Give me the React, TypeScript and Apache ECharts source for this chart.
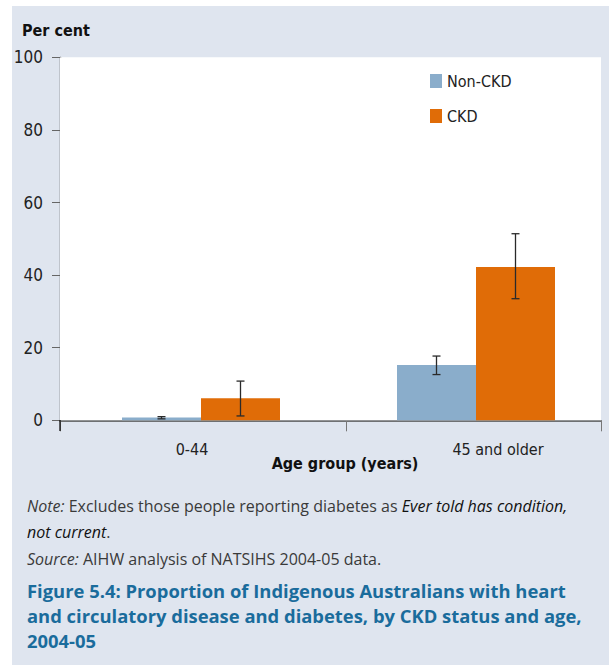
import React, { useEffect, useRef } from "react";
import * as echarts from "echarts";

// ---- Data ----
const categories = ["0-44", "45 and older"];
const seriesNames = ["Non-CKD", "CKD"];
const nonCkdValues = [0.8, 15.2];
const ckdValues = [6.1, 42.2];
const nonCkdLow = [0.4, 12.6];
const nonCkdHigh = [1.0, 17.7];
const ckdLow = [1.2, 33.5];
const ckdHigh = [10.8, 51.4];
const yTicks = [0, 20, 40, 60, 80, 100];

// ---- Layout constants (pixel-like units on the x value axis) ----
const X_MAX = 541;
const groupCentres = [141, 416];
const labelCentres = [132, 438];
const boundaryTicks = [0, 286, 541];
const BAR_W = 79;

const narrow = "'Liberation Sans Narrow', 'DejaVu Sans Condensed', 'Roboto', sans-serif";
const body = "'Open Sans', 'Noto Sans', sans-serif";

export default function App() {
  const ref = useRef<HTMLDivElement>(null);
  useEffect(() => {
    if (!ref.current) return;
    const chart = echarts.init(ref.current, undefined, { renderer: "svg" });

    const errData = (lo: number[], hi: number[]) =>
      categories.map((_, i) => [groupCentres[i], lo[i], hi[i]]);

    const errSeries = (name: string, lo: number[], hi: number[], offset: number) => ({
      type: "custom",
      name: name + " error",
      data: errData(lo, hi),
      z: 10,
      silent: true,
      renderItem: (params: any, api: any) => {
        const x = api.value(0);
        const top = api.coord([x, api.value(2)]);
        const bot = api.coord([x, api.value(1)]);
        const cx = top[0] + offset;
        const style = { stroke: "#2a2a2a", lineWidth: 1.3 };
        return {
          type: "group",
          children: [
            { type: "line", shape: { x1: cx, y1: top[1], x2: cx, y2: bot[1] }, style },
            { type: "line", shape: { x1: cx - 4, y1: top[1], x2: cx + 4, y2: top[1] }, style },
            { type: "line", shape: { x1: cx - 4, y1: bot[1], x2: cx + 4, y2: bot[1] }, style },
          ],
        };
      },
    });

    chart.setOption({
      animation: false,
      backgroundColor: "#ffffff",
      grid: {
        left: 60,
        top: 57.3,
        right: 8,
        bottom: 245.7,
        show: true,
        backgroundColor: "#ffffff",
        borderWidth: 0,
        z: 1,
      },
      legend: {
        data: seriesNames,
        orient: "vertical",
        left: 425,
        top: 68,
        itemWidth: 12,
        itemHeight: 14,
        itemGap: 19,
        icon: "rect",
        textStyle: { fontFamily: narrow, fontSize: 16, color: "#222" },
      },
      xAxis: {
        type: "value",
        min: 0,
        max: X_MAX,
        splitLine: { show: false },
        axisLine: { show: true, onZero: false, lineStyle: { color: "#4a4a4a", width: 1.5 } },
        axisTick: {
          show: true,
          customValues: boundaryTicks,
          length: 11,
          lineStyle: { color: "#777", width: 1 },
        },
        axisLabel: {
          customValues: labelCentres,
          formatter: (v: number) => {
            const i = labelCentres.indexOf(v);
            return i >= 0 ? categories[i] : "";
          },
          margin: 21,
          fontFamily: narrow,
          fontSize: 16,
          color: "#222",
        },
      },
      yAxis: {
        type: "value",
        min: 0,
        max: 100,
        interval: 20,
        splitLine: { show: false },
        axisLine: { show: true, lineStyle: { color: "#111", width: 1.3 } },
        axisTick: { show: true, length: 8, lineStyle: { color: "#666" } },
        axisLabel: {
          margin: 17,
          fontFamily: narrow,
          fontSize: 17,
          color: "#222",
          formatter: (v: number) => (yTicks.includes(v) ? String(v) : ""),
        },
      },
      series: [
        {
          type: "bar",
          name: seriesNames[0],
          data: categories.map((_, i) => [groupCentres[i], nonCkdValues[i]]),
          barWidth: BAR_W,
          barGap: "0%",
          itemStyle: { color: "#8aadcb" },
          z: 3,
        },
        {
          type: "bar",
          name: seriesNames[1],
          data: categories.map((_, i) => [groupCentres[i], ckdValues[i]]),
          barWidth: BAR_W,
          barGap: "0%",
          itemStyle: { color: "#e06c07" },
          z: 3,
        },
        errSeries(seriesNames[0], nonCkdLow, nonCkdHigh, -BAR_W / 2),
        errSeries(seriesNames[1], ckdLow, ckdHigh, BAR_W / 2),
      ],
      graphic: [
        {
          type: "rect",
          z: -10,
          shape: { x: 12, y: 6, width: 600, height: 659 },
          style: { fill: "#dfe5ef" },
          silent: true,
        },
        {
          type: "line",
          z: 5,
          shape: { x1: 60, y1: 420, x2: 60, y2: 431 },
          style: { stroke: "#111", lineWidth: 1.3 },
          silent: true,
        },
        {
          type: "text",
          x: 22,
          y: 30,
          style: {
            text: "Per cent",
            font: `bold 16px ${narrow}`,
            fill: "#111",
            verticalAlign: "middle",
          },
        },
        {
          type: "text",
          x: 345,
          y: 463,
          style: {
            text: "Age group (years)",
            font: `bold 16px ${narrow}`,
            fill: "#111",
            align: "center",
            verticalAlign: "middle",
          },
        },
        {
          type: "text",
          x: 27,
          y: 493,
          style: {
            text:
              "{i|Note:} Excludes those people reporting diabetes as {b|Ever told has condition,}\n{b|not current}.",
            font: `16px ${body}`,
            fill: "#3a3a3a",
            lineHeight: 26,
            rich: {
              i: { fontFamily: body, fontSize: 16, fontStyle: "italic", fill: "#3a3a3a", lineHeight: 26 },
              b: { fontFamily: body, fontSize: 16, fontStyle: "italic", fill: "#111", lineHeight: 26 },
            },
          },
        },
        {
          type: "text",
          x: 27,
          y: 546,
          style: {
            text: "{i|Source:} AIHW analysis of NATSIHS 2004-05 data.",
            font: `16px ${body}`,
            fill: "#3a3a3a",
            lineHeight: 26,
            rich: {
              i: { fontFamily: body, fontSize: 16, fontStyle: "italic", fill: "#3a3a3a", lineHeight: 26 },
            },
          },
        },
        {
          type: "text",
          x: 27,
          y: 578,
          style: {
            text:
              "Figure 5.4: Proportion of Indigenous Australians with heart\nand circulatory disease and diabetes, by CKD status and age,\n2004-05",
            font: `bold 18.4px ${body}`,
            fill: "#1a6c9c",
            lineHeight: 25,
          },
        },
      ],
    });
    return () => chart.dispose();
  }, []);
  return (
    <div
      ref={ref}
      style={{ position: "fixed", left: 0, top: 0, width: 609, height: 666 }}
    />
  );
}
